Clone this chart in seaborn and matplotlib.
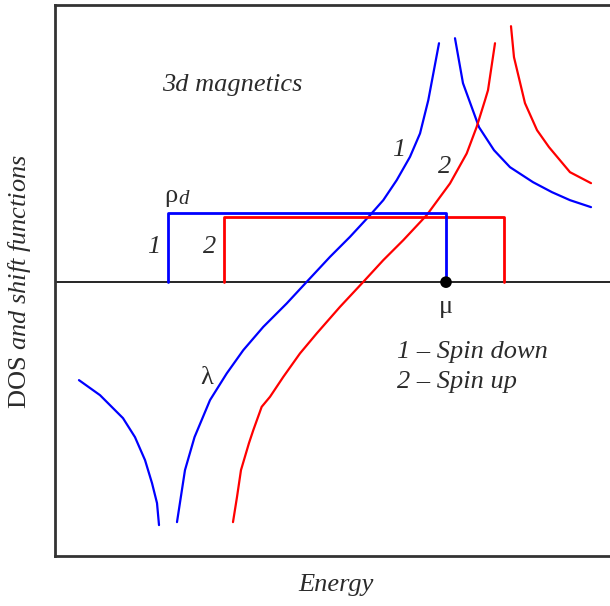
import numpy as np
import pandas as pd
import matplotlib
matplotlib.use("Agg")
import matplotlib.pyplot as plt
import seaborn as sns

# shift function lambda, spin down (1)
blue_s_x = [2.198, 2.342, 2.514, 2.793, 3.094, 3.393, 3.753, 4.175, 4.535, 4.955,
            5.315, 5.676, 5.915, 6.157, 6.396, 6.577, 6.726, 6.919]
blue_s_y = [-4.364, -3.418, -2.818, -2.145, -1.660, -1.236, -0.813, -0.387, 0.005, 0.460,
            0.824, 1.218, 1.491, 1.855, 2.278, 2.704, 3.309, 4.345]
blue_left_x = [0.432, 0.811, 1.225, 1.441, 1.622, 1.748, 1.838, 1.874]
blue_left_y = [-1.782, -2.055, -2.473, -2.818, -3.236, -3.655, -4.018, -4.418]
blue_right_x = [7.207, 7.351, 7.640, 7.910, 8.198, 8.613, 8.955, 9.279, 9.658]
blue_right_y = [4.436, 3.618, 2.818, 2.400, 2.091, 1.818, 1.636, 1.491, 1.364]

# spin up (2)
red_s_x = [3.207, 3.279, 3.351, 3.495, 3.573, 3.724, 3.874, 4.114, 4.414, 4.715,
           5.135, 5.555, 5.915, 6.276, 6.697, 7.117, 7.418, 7.598, 7.748, 7.802, 7.928]
red_s_y = [-4.364, -3.909, -3.418, -2.927, -2.691, -2.267, -2.085, -1.722, -1.296, -0.933,
           -0.449, 0.005, 0.400, 0.764, 1.218, 1.795, 2.340, 2.824, 3.309, 3.491, 4.345]
red_right_x = [8.216, 8.270, 8.468, 8.685, 8.901, 9.279, 9.658]
red_right_y = [4.655, 4.091, 3.255, 2.764, 2.455, 2.000, 1.800]

# rectangular DOS
dos_down = [2.036, 7.045, 1.255]   # left, right, height
dos_up = [3.045, 8.090, 1.182]
mu = 7.045

sns.set_style("white")
plt.rcParams['font.family'] = ['Liberation Serif', 'DejaVu Serif']
plt.rcParams['mathtext.fontset'] = 'custom'
plt.rcParams['mathtext.rm'] = 'Liberation Serif'
plt.rcParams['mathtext.it'] = 'Liberation Serif:italic'

tc = '#2b2b2b'
fig = plt.figure(figsize=(6.1, 6.06), dpi=100)
ax = fig.add_axes([55/610, 1 - 556/606, 1 - 55/610, 551/606])

lw = 1.6
for xs, ys in [(blue_s_x, blue_s_y), (blue_left_x, blue_left_y), (blue_right_x, blue_right_y)]:
    sns.lineplot(x=xs, y=ys, sort=False, estimator=None, color='#0000ff', lw=lw, ax=ax)
for xs, ys in [(red_s_x, red_s_y), (red_right_x, red_right_y)]:
    sns.lineplot(x=xs, y=ys, sort=False, estimator=None, color='#ff0000', lw=lw, ax=ax)

ax.axhline(0, color='black', lw=1.2, zorder=1)

for (l, r, h), c in [(dos_up, '#ff0000'), (dos_down, '#0000ff')]:
    sns.lineplot(x=[l, l, r, r], y=[0, h, h, 0], sort=False, estimator=None,
                 color=c, lw=2.0, ax=ax)

sns.scatterplot(x=[mu], y=[0], color='black', s=70, zorder=5, ax=ax, edgecolor='none')

ax.set_xlim(0, 10)
ax.set_ylim(-4.98, 5.04)
ax.set_xticks([])
ax.set_yticks([])
ax.spines['right'].set_visible(False)
for s in ['left', 'top', 'bottom']:
    ax.spines[s].set_color('#333333')
    ax.spines[s].set_linewidth(2.0)

fs = 19
ax.text(3.19, 3.58, '3d magnetics', style='italic', fontsize=fs, color=tc, ha='center', va='center')
ax.text(6.198, 2.4, '1', style='italic', fontsize=fs, color=tc, ha='center', va='center')
ax.text(7.027, 2.09, '2', style='italic', fontsize=fs, color=tc, ha='center', va='center')
ax.text(1.784, 0.636, '1', style='italic', fontsize=fs, color=tc, ha='center', va='center')
ax.text(2.793, 0.636, '2', style='italic', fontsize=fs, color=tc, ha='center', va='center')
ax.text(2.09, 1.56, 'ρ', fontsize=fs, color=tc, ha='center', va='center')
ax.text(2.32, 1.50, 'd', style='italic', fontsize=15, color=tc, ha='center', va='center')
ax.text(7.045, -0.455, 'μ', fontsize=fs, color=tc, ha='center', va='center')
ax.text(2.739, -1.745, 'λ', fontsize=fs, color=tc, ha='center', va='center')
ax.text(6.162, -1.273, '1 – Spin down', style='italic', fontsize=fs, color=tc, ha='left', va='center')
ax.text(6.162, -1.818, '2 – Spin up', style='italic', fontsize=fs, color=tc, ha='left', va='center')

fig.text(20/610, 1 - 282/606, 'DOS $and\\ shift\\ functions$', rotation=90,
         fontsize=19, color=tc, ha='center', va='center')
fig.text(336.5/610, 1 - 585/606, 'Energy', style='italic', fontsize=19, color=tc,
         ha='center', va='center')

fig.savefig('out.png', dpi=100)
